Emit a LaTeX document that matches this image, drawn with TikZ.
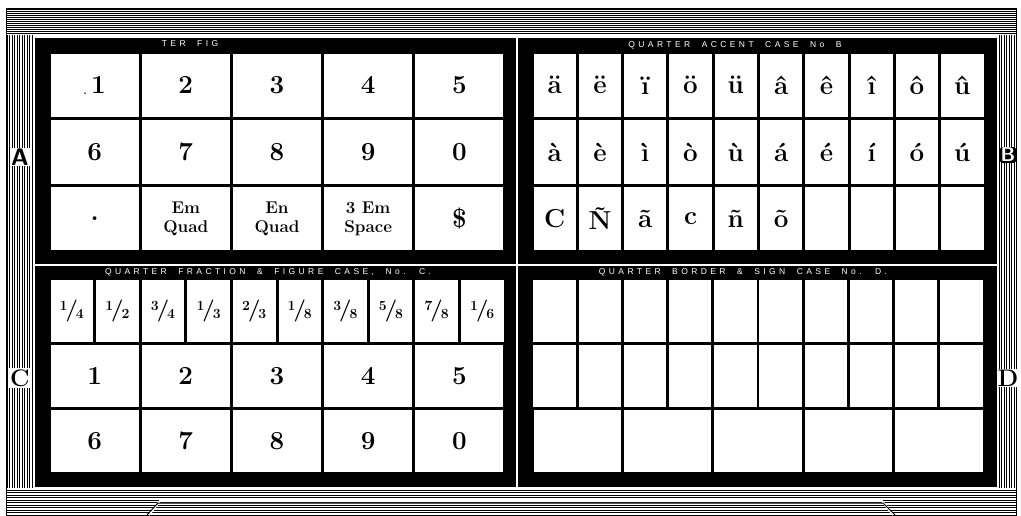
\documentclass[tikz,border=0pt]{standalone}
\usepackage{fontspec}
\usepackage{tikz}

\newfontfamily\hdrfont[LetterSpace=40, WordSpace=2]{Liberation Sans}
\newcommand{\frc}[2]{\bfseries\raisebox{6pt}{\fontsize{14}{14}\selectfont #1}\kern-2pt{\fontsize{22}{22}\selectfont /}\kern-2pt\raisebox{-2pt}{\fontsize{14}{14}\selectfont #2}}

\begin{document}
\begin{tikzpicture}[x=1pt, y=-1pt,
    wide/.style={fill=white, inner sep=0pt, align=center, minimum width=88pt, minimum height=#1, font=\fontsize{26}{28}\selectfont\bfseries},
    narrow/.style={fill=white, inner sep=0pt, minimum width=42.3pt, minimum height=#1, font=\fontsize{26}{28}\selectfont\bfseries},
    quad/.style={font=\fontsize{17}{19}\selectfont\bfseries},
    hdr/.style={text=white, inner sep=0pt, font=\hdrfont\fontsize{8.5}{8.5}\selectfont},
    side/.style={fill=white, inner sep=1pt, font=\fontsize{24}{24}\selectfont\bfseries}]
    \useasboundingbox (0,0) rectangle (1021,515);

    % hatched frame of the case
    \foreach \y in {9,11,...,33} \draw[line width=.5pt] (6,\y) -- (1016,\y);
    \foreach \y in {490,492.5,...,514} \draw[line width=.5pt] (6,\y) -- (1016,\y);
    \foreach \x in {7,9.5,...,33} \draw[line width=.5pt] (\x,35) -- (\x,488);
    \foreach \x in {999,1001.5,...,1016} \draw[line width=.5pt] (\x,35) -- (\x,488);
    \draw[line width=1pt] (6,8) rectangle (1016,515);
    \draw[white, line width=2pt] (149,515) -- (160,501) -- (882,501) -- (893,515);
    \draw[line width=1pt] (147,515) -- (158,503) -- (883,503) -- (895,515);

    % black body with the four quarters
    \fill (35,38) rectangle (997,487);
    \draw[white, line width=1.2pt] (517,38) -- (517,487);
    \draw[white, line width=1.2pt] (35,265) -- (997,265);

    % quarter A
    \foreach \lab [count=\c] in {{\raisebox{-1pt}{\fontsize{10}{10}\selectfont.}\,1},2,3,4,5}
        \node[wide=63.5pt] (tla\c) at ({49+91.2*(\c-.5)},85.3) {\lab};
    \foreach \lab [count=\c] in {6,7,8,9,0}
        \node[wide=63.5pt] (tlb\c) at ({49+91.2*(\c-.5)},152) {\lab};
    \node[wide=63.5pt] (tlc1) at (94.6,218.7) {.};
    \node[wide=63.5pt, quad] (tlc2) at (185.8,218.7) {Em\\Quad};
    \node[wide=63.5pt, quad] (tlc3) at (277,218.7) {En\\Quad};
    \node[wide=63.5pt, quad] (tlc4) at (368.2,218.7) {3 Em\\Space};
    \node[wide=63.5pt] (tlc5) at (459.4,218.7) {\$};

    % quarter B
    \foreach \lab [count=\c] in {ä,ë,ï,ö,ü,â,ê,î,ô,û}
        \node[narrow=63.5pt] (tra\c) at ({532+45.3*(\c-.5)},85.3) {\lab};
    \foreach \lab [count=\c] in {à,è,ì,ò,ù,á,é,í,ó,ú}
        \node[narrow=63.5pt] (trb\c) at ({532+45.3*(\c-.5)},152) {\lab};
    \foreach \lab [count=\c] in {C,Ñ,ã,c,ñ,õ,{},{},{},{}}
        \node[narrow=63.5pt] (trc\c) at ({532+45.3*(\c-.5)},218.7) {\lab};

    % quarter C
    \foreach \lab [count=\c] in {{\frc14},{\frc12},{\frc34},{\frc13},{\frc23},{\frc18},{\frc38},{\frc58},{\frc78},{\frc16}}
        \node[narrow=62pt, minimum width=42.6pt] (bla\c) at ({49+45.6*(\c-.5)},310.7) {\lab};
    \foreach \lab [count=\c] in {1,2,3,4,5}
        \node[wide=62pt] (blb\c) at ({49+91.2*(\c-.5)},376) {\lab};
    \foreach \lab [count=\c] in {6,7,8,9,0}
        \node[wide=62pt] (blc\c) at ({49+91.2*(\c-.5)},441.3) {\lab};

    % quarter D
    \foreach \c in {1,...,10} {
        \node[narrow=62pt] (bra\c) at ({532+45.2*(\c-.5)},310.7) {};
        \node[narrow=62pt] (brb\c) at ({532+45.2*(\c-.5)},376) {};
    }
    \foreach \c in {1,...,5}
        \node[wide=62pt, minimum width=87.4pt] (brc\c) at ({532+90.4*(\c-.5)},441.3) {};

    % case titles
    \node[hdr] (hdA) at (190,44) {TER FIG};
    \node[hdr] (hdB) at (735,45) {QUARTER ACCENT CASE No B};
    \node[hdr] (hdC) at (268,272) {QUARTER FRACTION \& FIGURE CASE, No. C.};
    \node[hdr] (hdD) at (743,272) {QUARTER BORDER \& SIGN CASE No. D.};

    % side letters
    \node[side, font=\fontsize{24}{24}\selectfont\sffamily\bfseries] (sideA) at (20,157) {A};
    \node[side, fill=black, text=white, rounded corners=3pt, font=\fontsize{20}{20}\selectfont\sffamily\bfseries] (sideB) at (1008,155) {B};
    \node[side] (sideC) at (20,378) {C};
    \node[side] (sideD) at (1008,378) {D};
\end{tikzpicture}
\end{document}
